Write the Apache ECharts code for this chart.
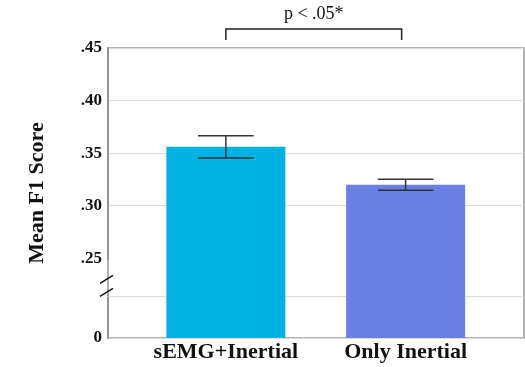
<!DOCTYPE html>
<html>
<head>
<meta charset="utf-8">
<script src="https://cdn.jsdelivr.net/npm/echarts@6.0.0/dist/echarts.min.js"></script>
<style>
  html, body { margin: 0; padding: 0; background: #fff; }
  #chart { width: 525px; height: 367px; }
</style>
</head>
<body>
<div id="chart"></div>
<script>
// data
var categories = ["sEMG+Inertial", "Only Inertial"];
var meanF1 = [0.356, 0.320];
var errF1 = [0.0105, 0.0052];
var barColors = ["#00b2e4", "#687fe3"];
var yTicks = [0, 0.25, 0.30, 0.35, 0.40, 0.45];
var pText = "p < .05*";

// broken axis: everything between breakStart and .25 is squeezed
var breakStart = 0.0415;
var breakEnd = 0.25;
var breakGap = 0.0343;

var serif = '"Liberation Serif", "DejaVu Serif", serif';

function tickText(v) {
  for (var i = 0; i < yTicks.length; i++) {
    if (Math.abs(v - yTicks[i]) < 1e-6) {
      if (yTicks[i] === 0) return "0";
      return "." + String(Math.round(yTicks[i] * 100)).padStart(2, "0");
    }
  }
  return "";
}

var chart = echarts.init(document.getElementById("chart"));

var yBase = {
  type: "value",
  min: 0,
  max: 0.45,
  interval: 0.05,
  breaks: [{ start: breakStart, end: breakEnd, gap: breakGap }],
  breakArea: { show: false }
};

var option = {
  backgroundColor: "#fff",
  animation: false,
  grid: [
    // outer frame with gridlines
    { left: 108, right: 1, top: 48, bottom: 29, show: true, borderColor: "#999", borderWidth: 1.5 },
    // inner grid holding the two bars
    { left: 136, right: 29.5, top: 48, bottom: 29 }
  ],
  xAxis: [
    { gridIndex: 0, type: "category", data: categories, show: false },
    {
      gridIndex: 1,
      type: "category",
      data: categories,
      axisLine: { show: false },
      axisTick: { show: false },
      axisLabel: {
        interval: 0,
        hideOverlap: false,
        margin: 3,
        color: "#111",
        fontFamily: serif,
        fontWeight: "bold",
        fontSize: 22
      }
    }
  ],
  yAxis: [
    Object.assign({}, yBase, {
      gridIndex: 0,
      name: "Mean F1 Score",
      nameLocation: "middle",
      nameGap: 60,
      nameTextStyle: { fontFamily: serif, fontWeight: "bold", fontSize: 22, color: "#111" },
      axisLine: { show: true, lineStyle: { color: "#888", width: 1.5 } },
      axisTick: { show: false },
      axisLabel: {
        margin: 6,
        color: "#111",
        fontFamily: serif,
        fontWeight: "bold",
        fontSize: 17,
        formatter: tickText
      },
      splitLine: { show: true, lineStyle: { color: "#dcdcdc", width: 1 } }
    }),
    Object.assign({}, yBase, { gridIndex: 1, show: false, splitLine: { show: false } })
  ],
  series: [
    {
      // extra gridline at the lower edge of the break
      type: "line",
      xAxisIndex: 0,
      yAxisIndex: 0,
      z: 0,
      data: [],
      markLine: {
        silent: true,
        symbol: "none",
        label: { show: false },
        lineStyle: { color: "#dcdcdc", width: 1, type: "solid" },
        data: [{ yAxis: breakStart }]
      }
    },
    {
      type: "bar",
      xAxisIndex: 1,
      yAxisIndex: 1,
      z: 5,
      barWidth: 119,
      data: meanF1.map(function (v, i) {
        return { value: v, itemStyle: { color: barColors[i] } };
      })
    },
    {
      type: "custom",
      xAxisIndex: 1,
      yAxisIndex: 1,
      z: 10,
      data: meanF1.map(function (v, i) { return [i, v - errF1[i], v + errF1[i]]; }),
      renderItem: function (params, api) {
        var lo = api.coord([api.value(0), api.value(1)]);
        var hi = api.coord([api.value(0), api.value(2)]);
        var half = api.size([1, 0])[0] * 0.155;
        var st = { stroke: "#333", lineWidth: 1.5, fill: null };
        return {
          type: "group",
          children: [
            { type: "line", shape: { x1: lo[0], y1: lo[1], x2: hi[0], y2: hi[1] }, style: st },
            { type: "line", shape: { x1: lo[0] - half, y1: lo[1], x2: lo[0] + half, y2: lo[1] }, style: st },
            { type: "line", shape: { x1: hi[0] - half, y1: hi[1], x2: hi[0] + half, y2: hi[1] }, style: st }
          ]
        };
      }
    }
  ]
};

chart.setOption(option);

// significance bracket and axis-break marks, placed with the chart's own scales
var xa = chart.convertToPixel({ xAxisIndex: 1 }, categories[0]);
var xb = chart.convertToPixel({ xAxisIndex: 1 }, categories[1]);
var yBreak = chart.convertToPixel({ yAxisIndex: 0 }, breakStart);
var axisX = 108;
var brTop = 29, brLeg = 40;
var lineSt = { stroke: "#222", lineWidth: 1.5, fill: null };
chart.setOption({
  graphic: [
    {
      type: "polyline",
      shape: { points: [[xa, brLeg], [xa, brTop], [xb - 4, brTop], [xb - 4, brLeg]] },
      style: lineSt
    },
    {
      type: "text",
      x: (xa + xb - 4) / 2,
      y: 14,
      style: { text: pText, fontFamily: serif, fontSize: 18, fill: "#111", align: "center", verticalAlign: "middle" }
    },
    {
      type: "line",
      shape: { x1: axisX - 8, y1: yBreak - 11, x2: axisX + 5, y2: yBreak - 19 },
      style: { stroke: "#111", lineWidth: 1.5 }
    },
    {
      type: "line",
      shape: { x1: axisX - 8, y1: yBreak + 2, x2: axisX + 5, y2: yBreak - 6 },
      style: { stroke: "#111", lineWidth: 1.5 }
    }
  ]
});
</script>
</body>
</html>
